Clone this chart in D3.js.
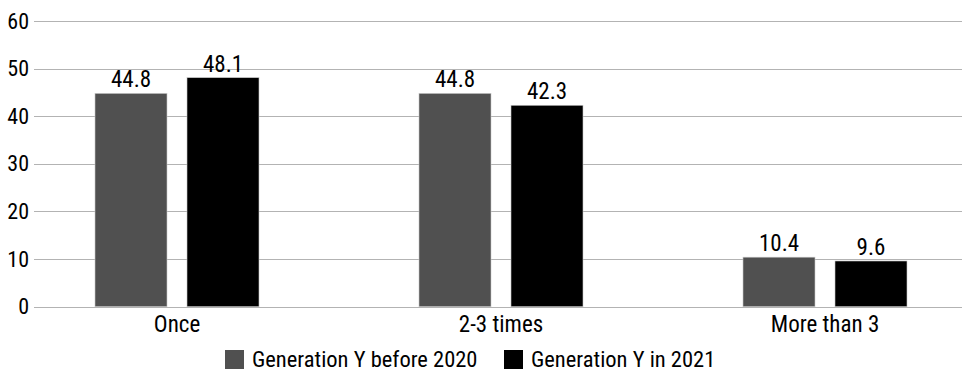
<!DOCTYPE html>
<html><head><meta charset="utf-8">
<script src="https://cdn.jsdelivr.net/npm/d3@7"></script>
<style>
body{margin:0;background:#fff;}
svg text{font-family:"Roboto Condensed","Roboto",sans-serif;fill:#000;}
</style></head><body>
<svg id="c" width="962" height="374"></svg>
<script>
const categories = ["Once", "2-3 times", "More than 3"];
const seriesNames = ["Generation Y before 2020", "Generation Y in 2021"];
const before2020 = [44.8, 44.8, 10.4];
const in2021 = [48.1, 42.3, 9.6];
const yTicks = [0, 10, 20, 30, 40, 50, 60];
const colors = ["#505050", "#000000"];

const svg = d3.select("#c");
const W = 962;
const FS = 23;
const y = d3.scaleLinear().domain([0, 60]).range([306.7, 21]);
const x = d3.scaleBand().domain(categories).range([15, 987]).paddingInner(0).paddingOuter(0);
const x1 = d3.scaleBand().domain([0, 1]).range([x.bandwidth()/2 - 82, x.bandwidth()/2 + 82]).paddingInner(20/92);

// gridlines
svg.append("g").selectAll("line").data(yTicks).join("line")
  .attr("x1", 34).attr("x2", W).attr("y1", d => Math.round(y(d)) + 0.5).attr("y2", d => Math.round(y(d)) + 0.5)
  .attr("stroke", "#b3b3b3").attr("stroke-width", 1);

// y labels
const yAxis = d3.axisLeft(y).tickValues(yTicks).tickSize(0).tickPadding(0);
const ga = svg.append("g").attr("transform", "translate(29,0)").call(yAxis);
ga.select(".domain").remove();
ga.selectAll("text").attr("font-size", 22).attr("fill", "#000").style("font-family", null);

const data = categories.map((c, i) => ({c, vals: [before2020[i], in2021[i]]}));
const g = svg.append("g").selectAll("g").data(data).join("g")
  .attr("transform", d => `translate(${x(d.c)},0)`);
g.selectAll("rect").data(d => d.vals.map((v, k) => ({v, k}))).join("rect")
  .attr("x", d => x1(d.k)).attr("width", x1.bandwidth())
  .attr("y", d => y(d.v)).attr("height", d => y(0) - y(d.v))
  .attr("fill", d => colors[d.k]).attr("stroke", "#c8c8c8").attr("stroke-width", 0.6);
g.selectAll("text.v").data(d => d.vals.map((v, k) => ({v, k}))).join("text")
  .attr("class", "v")
  .attr("x", d => x1(d.k) + x1.bandwidth()/2).attr("y", d => y(d.v) - 6)
  .attr("text-anchor", "middle").attr("font-size", FS)
  .text(d => d.v.toFixed(1));

// x labels
const xAxis = d3.axisBottom(x).tickSize(0).tickPadding(0);
const gx = svg.append("g").attr("transform", "translate(0,316)").call(xAxis);
gx.select(".domain").remove();
gx.selectAll("text").attr("font-size", FS).attr("fill", "#000").attr("dy", "0.71em").style("font-family", null);

// legend
const legX = [225, 504];
const lg = svg.append("g").selectAll("g").data(seriesNames).join("g")
  .attr("transform", (d, i) => `translate(${legX[i]},350)`);
lg.append("rect").attr("width", 19).attr("height", 19).attr("fill", (d, i) => colors[i]);
lg.append("text").attr("x", 27).attr("y", 17).attr("font-size", 22.5).text(d => d);
</script></body></html>
